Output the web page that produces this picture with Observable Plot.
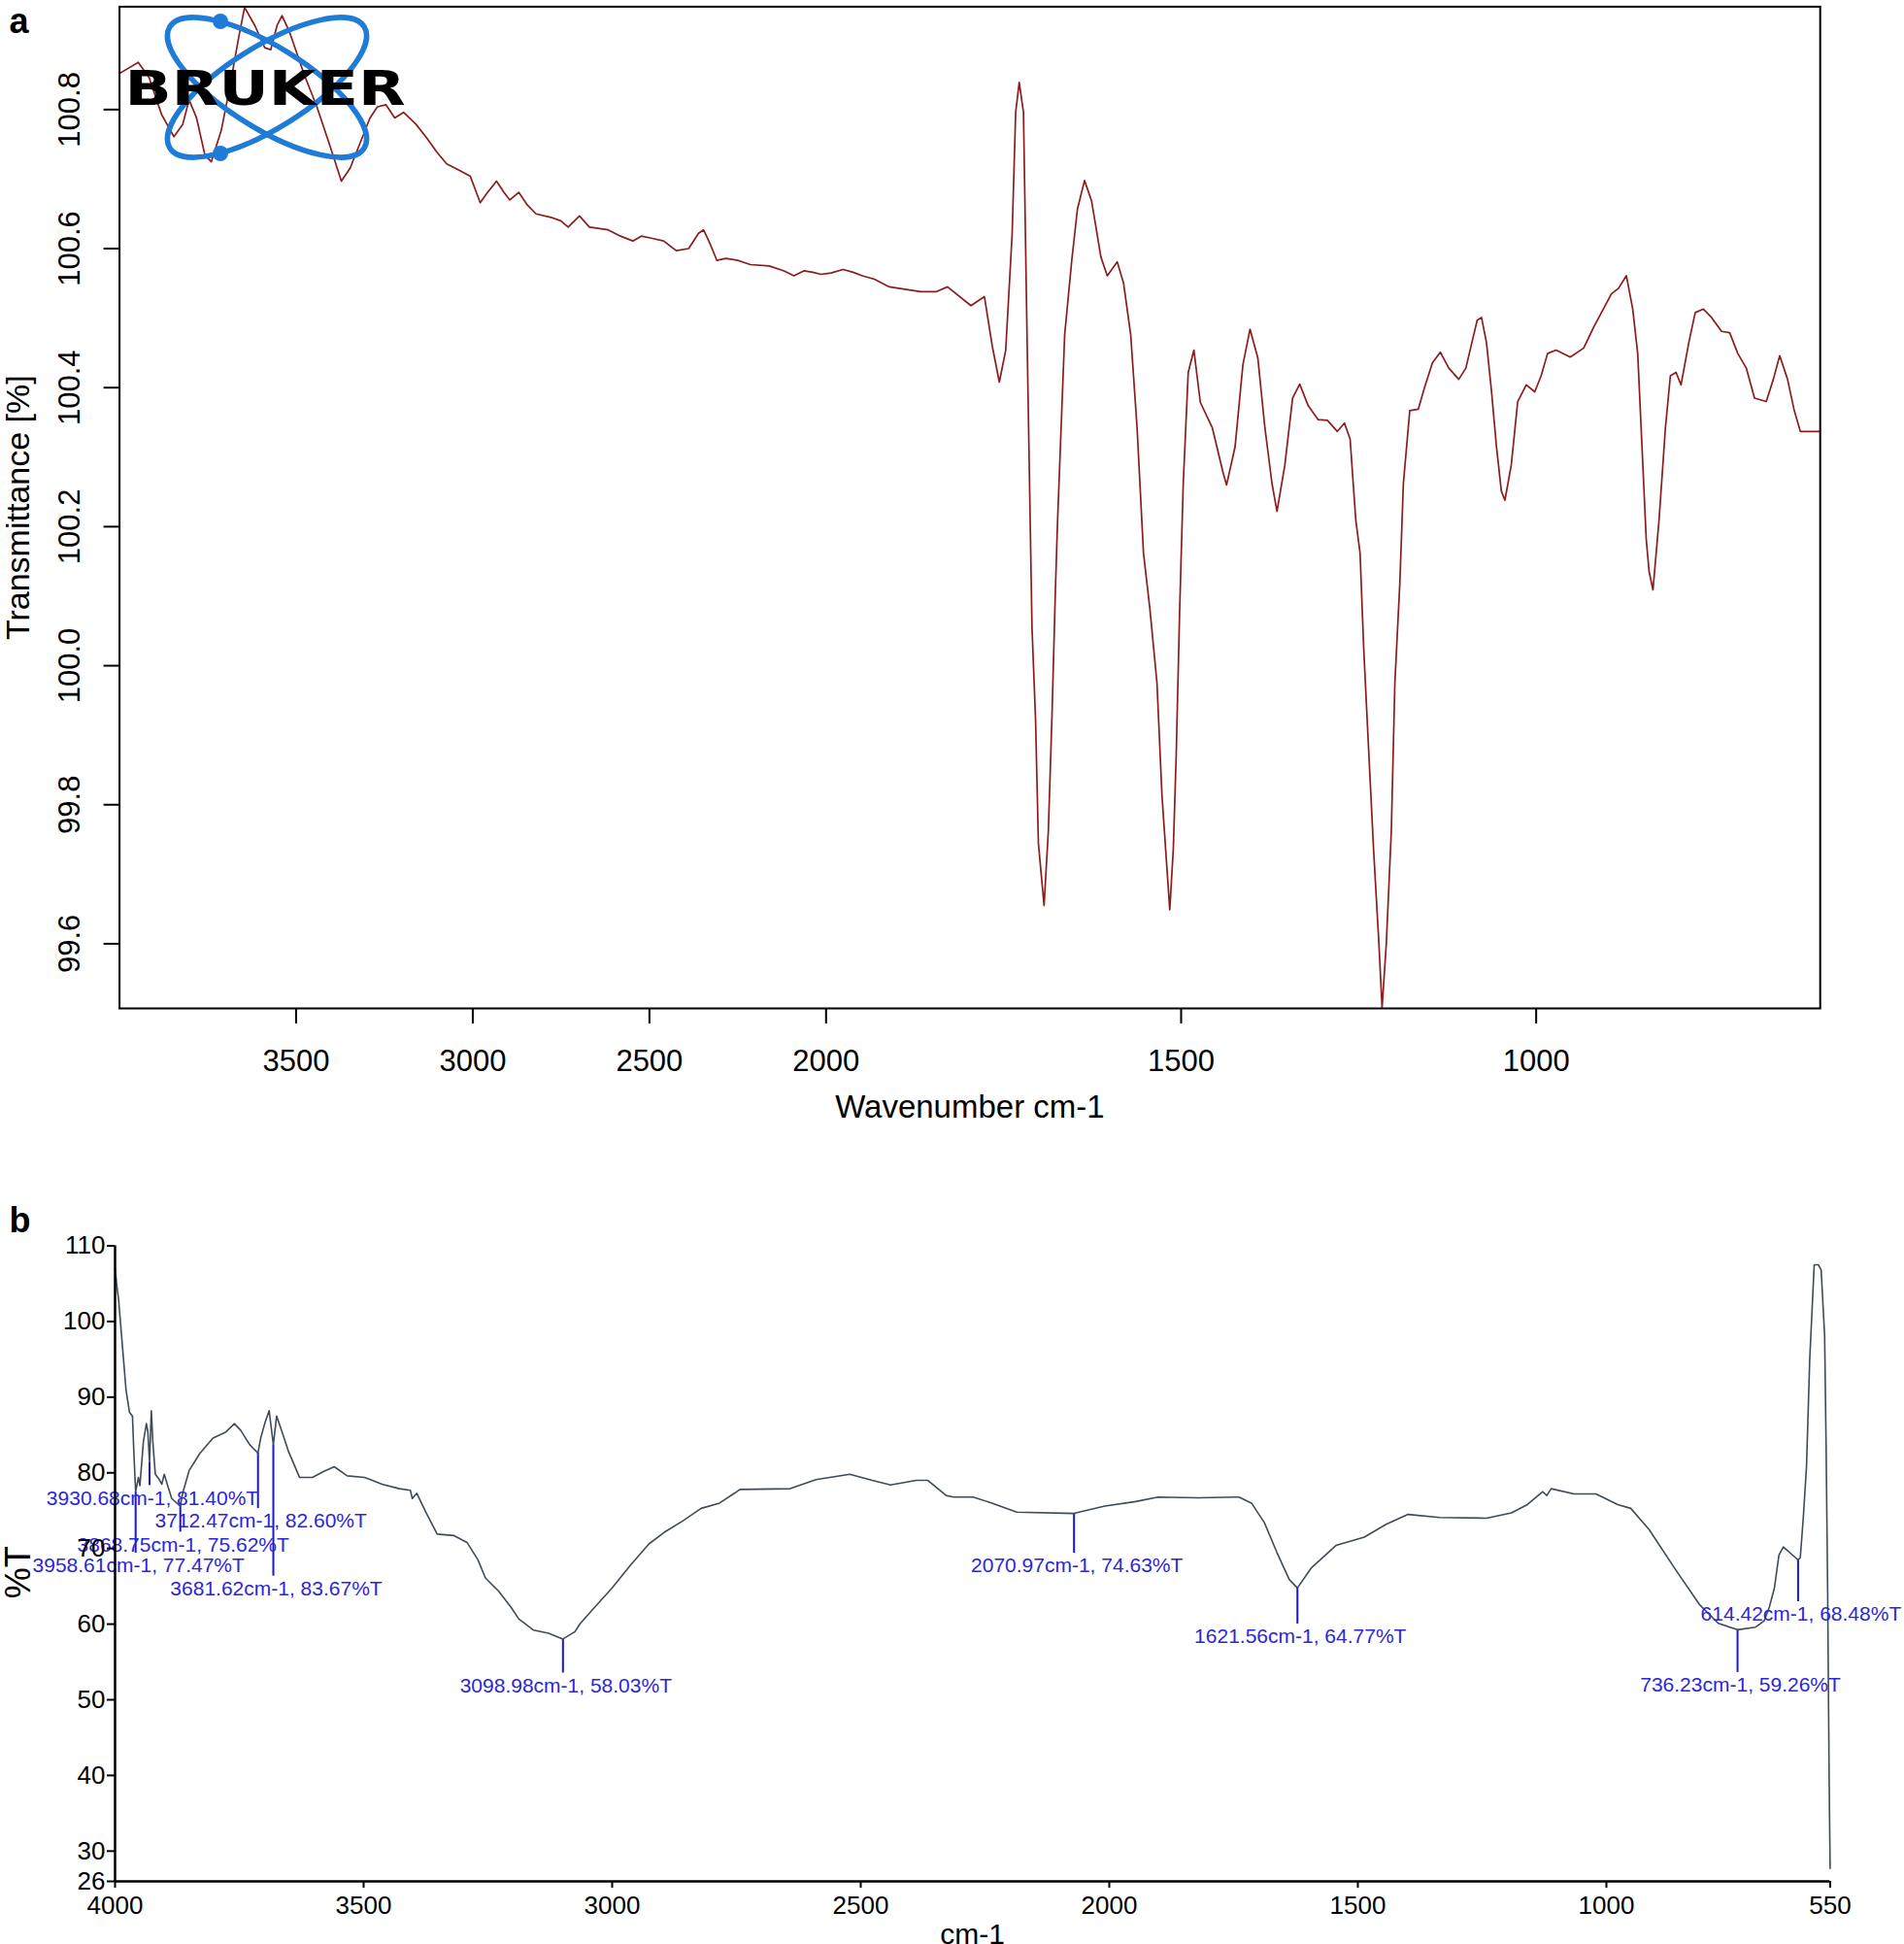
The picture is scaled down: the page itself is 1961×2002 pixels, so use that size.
<!DOCTYPE html>
<html><head><meta charset="utf-8">
<script src="https://cdn.jsdelivr.net/npm/d3@7"></script>
<script src="https://cdn.jsdelivr.net/npm/@observablehq/plot@0.6"></script>
<style>
html,body{margin:0;padding:0;background:#fff;}
#chart{width:1961px;height:2002px;position:relative;overflow:hidden;background:#fff;}
#chart svg{display:block;}
</style></head><body><div id="chart"></div>
<script>
// ---------- Panel a: Bruker spectrum (wavenumber cm-1, transmittance %) ----------
const spectrumA = [
[4000,100.852],[3947,100.868],[3916,100.846],[3881,100.793],[3846,100.761],[3821,100.779],[3803,100.814],[3782,100.788],[3758,100.734],[3740,100.725],
[3712,100.770],[3688,100.832],[3663,100.903],[3646,100.947],[3617,100.921],[3589,100.889],[3572,100.886],[3554,100.921],[3540,100.935],[3519,100.912],
[3477,100.850],[3442,100.805],[3407,100.752],[3372,100.697],[3347,100.716],[3319,100.752],[3291,100.788],[3270,100.804],[3246,100.807],[3221,100.788],
[3196,100.796],[3161,100.779],[3130,100.759],[3102,100.739],[3074,100.722],[3039,100.713],[3007,100.704],[2979,100.666],[2958,100.681],[2933,100.697],
[2912,100.681],[2895,100.670],[2870,100.681],[2846,100.663],[2821,100.650],[2779,100.645],[2751,100.640],[2730,100.631],[2698,100.647],[2670,100.631],
[2617,100.627],[2582,100.618],[2547,100.611],[2523,100.618],[2495,100.615],[2460,100.611],[2424,100.597],[2389,100.600],[2361,100.622],[2347,100.627],
[2330,100.609],[2309,100.583],[2284,100.586],[2249,100.583],[2214,100.577],[2161,100.575],[2119,100.568],[2091,100.561],[2063,100.568],[2038,100.566],
[2014,100.563],[1993,100.565],[1976,100.570],[1962,100.566],[1949,100.561],[1932,100.556],[1911,100.545],[1867,100.538],[1845,100.538],[1829,100.545],
[1796,100.518],[1777,100.531],[1766,100.460],[1756,100.408],[1747,100.454],[1738,100.620],[1733,100.796],[1728,100.839],[1722,100.796],[1717,100.476],
[1710,100.055],[1705,99.923],[1701,99.745],[1693,99.655],[1687,99.762],[1682,99.923],[1677,100.110],[1674,100.208],[1664,100.476],[1654,100.583],
[1646,100.657],[1636,100.698],[1626,100.668],[1613,100.588],[1604,100.561],[1590,100.581],[1581,100.550],[1571,100.476],[1562,100.342],[1553,100.162],
[1544,100.082],[1534,99.975],[1527,99.814],[1520,99.709],[1516,99.649],[1511,99.736],[1507,99.868],[1502,100.082],[1497,100.262],[1490,100.422],
[1482,100.454],[1473,100.379],[1456,100.342],[1441,100.278],[1436,100.260],[1424,100.315],[1413,100.433],[1403,100.484],[1392,100.443],[1382,100.342],
[1372,100.262],[1365,100.222],[1354,100.288],[1343,100.385],[1333,100.405],[1321,100.374],[1307,100.354],[1294,100.353],[1280,100.337],[1270,100.349],
[1262,100.326],[1254,100.209],[1248,100.162],[1243,100.028],[1238,99.922],[1229,99.736],[1221.5,99.601],[1217,99.508],[1211,99.601],[1204,99.762],
[1199,99.975],[1192,100.119],[1187,100.262],[1178,100.367],[1166,100.369],[1157,100.401],[1146,100.436],[1135,100.451],[1123,100.428],[1109,100.412],
[1099,100.428],[1090.5,100.465],[1083,100.497],[1077,100.501],[1070,100.465],[1063,100.396],[1056,100.316],[1049,100.251],[1044,100.238],[1035,100.289],
[1026,100.380],[1014,100.404],[1002,100.394],[993,100.417],[984,100.449],[972,100.454],[952,100.444],[933,100.457],[919,100.487],[905.5,100.513],
[894,100.535],[884,100.543],[873,100.561],[864,100.513],[857,100.449],[851,100.316],[845,100.182],[841,100.136],[835.5,100.109],[827,100.209],
[818,100.342],[811,100.417],[803,100.422],[796,100.404],[785,100.465],[776,100.508],[764.5,100.513],[753,100.501],[739,100.481],[727.5,100.479],
[716,100.449],[704,100.428],[692.5,100.385],[676,100.380],[666,100.412],[657,100.446],[646,100.412],[637,100.369],[628,100.337],[600,100.337]
];
const ticksAX = [3500, 3000, 2500, 2000, 1500, 1000];
const ticksAY = [99.6, 99.8, 100.0, 100.2, 100.4, 100.6, 100.8];

// ---------- Panel b: spectrum (cm-1, %T) ----------
const spectrumB = [
[4000,107],[3996,104.5],[3993,103],[3986,97.4],[3978,91],[3971,88],[3965,87.5],[3962,82.4],[3958.6,77.5],[3953,79.4],
[3950,78.3],[3943,84.1],[3937,86.5],[3934,85.4],[3930.7,81.4],[3927,88.2],[3924,84.1],[3919,79.8],[3912,79.2],[3906,78.5],
[3901,79.8],[3895,78.5],[3886,76.6],[3868.8,75.6],[3864,77.3],[3851,80.3],[3829,82.6],[3803,84.6],[3777,85.4],[3760,86.5],
[3747,85.6],[3729,83.7],[3712.5,82.6],[3707,84.6],[3698,86.7],[3690,88.2],[3681.6,83.7],[3675,87.5],[3664,85.4],[3651,82.8],
[3629,79.4],[3603,79.4],[3580,80.2],[3559,80.8],[3533,79.6],[3498,79.4],[3463,78.5],[3428,77.9],[3406,77.7],[3402,76.6],
[3393,77.3],[3374,74.7],[3352,71.9],[3318,71.7],[3292,70.8],[3270,68.5],[3255,66.1],[3229,64.4],[3203,62.2],[3188,60.7],
[3158,59.2],[3128,58.8],[3099,58.03],[3075,59],[3064,60.1],[3030,62.6],[3000,64.8],[2963,67.8],[2926,70.6],[2896,72.1],
[2859,73.6],[2821,75.3],[2784,76],[2754,77.3],[2743,77.8],[2642,77.9],[2590,79.1],[2522,79.8],[2477,79],[2440,78.4],
[2388,79],[2365,79],[2328,77],[2313,76.8],[2274,76.8],[2236,76.0],[2186,74.8],[2071,74.63],[2009,75.6],[1947,76.2],
[1902,76.8],[1821,76.7],[1739,76.8],[1714,76],[1688,73.4],[1663,69.5],[1638,65.9],[1621.6,64.77],[1594,67.4],[1544,70.4],
[1487,71.5],[1443,73.2],[1399,74.5],[1336,74.1],[1241,74],[1191,74.7],[1159,75.8],[1128,77.5],[1120,77.0],[1111,77.9],
[1065,77.2],[1021,77.2],[977,75.8],[951,75.3],[914,72.5],[863,67.4],[813,62.6],[775,60.1],[736.2,59.26],[700,59.6],
[683,60.4],[672,62.3],[662,64.8],[653,69.1],[644,70.2],[614.4,68.48],[610,68.8],[604,74],[597.5,80.8],[591,95],
[582,107.5],[574,107.5],[568,106.8],[561,98.1],[558,83.3],[555,64.8],[552,40],[550,27.7]
];
const ticksBX = [4000, 3500, 3000, 2500, 2000, 1500, 1000, 550];
const ticksBY = [26, 30, 40, 50, 60, 70, 80, 90, 100, 110];

// peak annotations (panel b)
const peakWn = [3958.61, 3930.68, 3868.75, 3712.47, 3681.62, 3098.98, 2070.97, 1621.56, 736.23, 614.42];
const peakT  = [77.47, 81.40, 75.62, 82.60, 83.67, 58.03, 74.63, 64.77, 59.26, 68.48];
// layout only: length of each pointer line in px
const peakDrop = [63, 24, 27, 57, 135, 35, 41, 37, 44, 43];

// ---------- layout ----------
const W = 1961;
const HA = 1180, HB = 822;
const FONT = "'Liberation Sans', Arial, Helvetica, sans-serif";
const FONT_N = "'Liberation Sans Narrow', 'Arial Narrow', 'Liberation Sans', Arial, sans-serif";
const A = {left: 122.6, right: 1874.2, top: 6.4, bottom: 1038, mid: 850.3};
const B = {left: 118, right: 1884.4, top: 102.5, bottom: 757};

const logoMark = () => {
  const g = d3.create("svg:g");
  const cx = 275, cy = 90;
  for (const ang of [32, -32]) {
    g.append("ellipse").attr("cx", cx).attr("cy", cy).attr("rx", 118).attr("ry", 42)
      .attr("transform", `rotate(${ang},${cx},${cy})`)
      .attr("fill", "none").attr("stroke", "#1f7bd8").attr("stroke-width", 5.5);
  }
  g.append("circle").attr("cx", 227).attr("cy", 22).attr("r", 8).attr("fill", "#1f7bd8");
  g.append("circle").attr("cx", 227).attr("cy", 158).attr("r", 8).attr("fill", "#1f7bd8");
  g.append("text").attr("x", 128.6).attr("y", 108).text("BRUKER")
    .attr("text-anchor", "start")
    .attr("font-family", "'DejaVu Sans', 'Liberation Sans', sans-serif").attr("font-weight", 900)
    .attr("font-size", 50).attr("textLength", 289).attr("lengthAdjust", "spacingAndGlyphs")
    .attr("fill", "#000");
  return g.node();
};

const chartA = Plot.plot({
  width: W, height: HA,
  marginLeft: A.left, marginRight: W - A.right, marginTop: A.top, marginBottom: HA - A.bottom,
  style: {fontFamily: FONT, fontSize: "31px", color: "#000", background: "#fff", overflow: "visible"},
  x: {type: "linear", domain: [4000, 2000, 600], range: [A.left, A.mid, A.right], label: null},
  y: {domain: [99.507, 100.948], label: null},
  marks: [
    Plot.line(spectrumA, {x: d => d[0], y: d => d[1], stroke: "#8b1d1d", strokeWidth: 1.7, clip: true}),
    logoMark,
    Plot.frame({stroke: "#000", strokeWidth: 2}),
    Plot.axisX({ticks: ticksAX, tickSize: 16, tickPadding: 26, tickFormat: d => String(d), fontSize: 31, strokeWidth: 2, label: null}),
    Plot.axisY({ticks: ticksAY, tickSize: 16, tickPadding: 25, tickRotate: -90, tickFormat: d => d.toFixed(1), fontSize: 31, strokeWidth: 2, label: null}),
    Plot.text(["Wavenumber cm-1"], {frameAnchor: "bottom", text: d => d, lineAnchor: "top", dy: 89, fontSize: 33, fill: "#000"}),
    Plot.text(["Transmittance [%]"], {frameAnchor: "left", text: d => d, rotate: -90, textAnchor: "middle", lineAnchor: "top", dx: -117, fontSize: 34, fill: "#000"}),
    Plot.text(["a"], {frameAnchor: "top-left", text: d => d, textAnchor: "start", lineAnchor: "bottom", dx: 9 - A.left, dy: 33 - A.top, fontSize: 36, fontWeight: "bold", fill: "#000"})
  ]
});

const pxPerUnitB = (B.bottom - B.top) / (110 - 26);
const peaks = peakWn.map((w, i) => ({
  wn: w, t: peakT[i], drop: peakDrop[i],
  label: `${w.toFixed(2)}cm-1, ${peakT[i].toFixed(2)}%T`
}));

const chartB = Plot.plot({
  width: W, height: HB,
  marginLeft: B.left, marginRight: W - B.right, marginTop: B.top, marginBottom: HB - B.bottom,
  style: {fontFamily: FONT_N, fontSize: "26px", color: "#000", background: "#fff", overflow: "visible"},
  x: {domain: [4000, 550], label: null},
  y: {domain: [26, 110], label: null},
  marks: [
    Plot.ruleX(peaks, {x: "wn", y1: "t", y2: d => d.t - d.drop / pxPerUnitB, stroke: "#1414ee", strokeWidth: 2}),
    Plot.line(spectrumB, {x: d => d[0], y: d => d[1], stroke: "#3e4b58", strokeWidth: 1.6}),
    Plot.text(peaks, {x: "wn", y: d => d.t - (d.drop + 13) / pxPerUnitB, text: "label", dx: 3, fill: "#2a28d6", fontSize: 21, fontFamily: FONT}),
    Plot.ruleY([26], {x1: 4000, x2: 550, stroke: "#000", strokeWidth: 2.5}),
    Plot.ruleX([4000], {y1: 26, y2: 110, stroke: "#000", strokeWidth: 2.5}),
    Plot.axisX({ticks: ticksBX, tickSize: 7, tickPadding: 8, tickFormat: d => String(d), fontSize: 26, strokeWidth: 2, label: null}),
    Plot.axisY({ticks: ticksBY, tickSize: 8, tickPadding: 2, tickFormat: d => String(d), fontSize: 26, strokeWidth: 2, label: null}),
    Plot.text(["cm-1"], {frameAnchor: "bottom", text: d => d, lineAnchor: "top", dy: 43, fontSize: 30, fill: "#000"}),
    Plot.text(["%T"], {frameAnchor: "left", text: d => d, rotate: -90, textAnchor: "middle", lineAnchor: "top", dx: -113.5, dy: 9, fontSize: 36, fontFamily: FONT, fill: "#000"}),
    Plot.text(["b"], {frameAnchor: "top-left", text: d => d, textAnchor: "start", lineAnchor: "bottom", dx: 9 - B.left, dy: 88 - B.top, fontSize: 36, fontWeight: "bold", fontFamily: FONT, fill: "#000"})
  ]
});

const root = document.getElementById("chart");
root.appendChild(chartA);
root.appendChild(chartB);
</script>
</body></html>
